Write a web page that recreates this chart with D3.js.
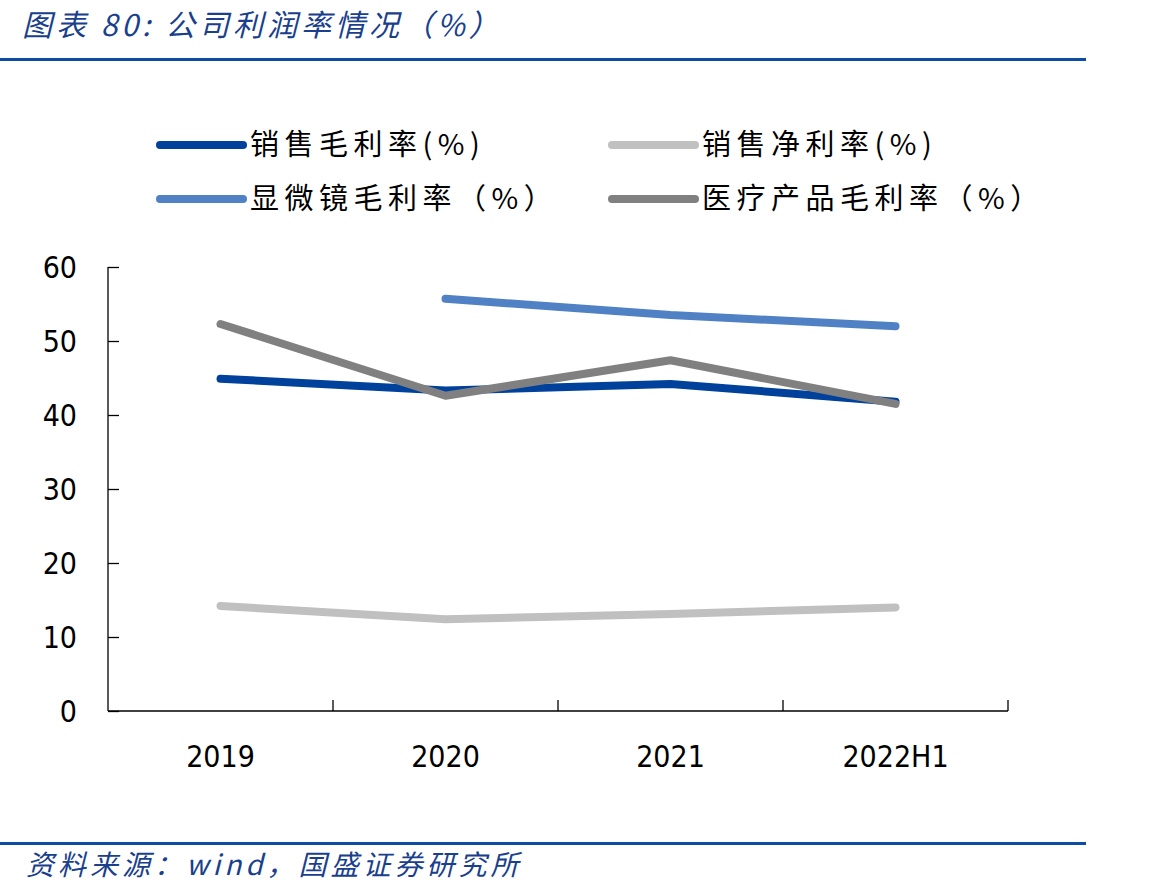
<!DOCTYPE html>
<html lang="zh">
<head>
  <meta charset="UTF-8">
  <title>公司利润率情况</title>
  <script src="https://d3js.org/d3.v7.min.js"></script>
  <style>
    body { margin: 0; background: #fff; }
  </style>
</head>
<body>
  <div class="canvas"></div>
  <script>
    const width = 1166;
    const height = 896;

    // data
    const categories = ['2019', '2020', '2021', '2022H1'];
    const salesGross = [44.9, 43.3, 44.2, 41.8];
    const salesNet = [14.2, 12.4, 13.1, 14.0];
    const microGross = [null, 55.7, 53.5, 52.0];
    const medicalGross = [52.3, 42.6, 47.4, 41.5];
    const yTicks = [0, 10, 20, 30, 40, 50, 60];

    const seriesList = [
      { name: '销售毛利率(%)', values: salesGross, color: '#00419b' },
      { name: '销售净利率(%)', values: salesNet, color: '#c0c0c0' },
      { name: '显微镜毛利率（%）', values: microGross, color: '#4f81c4' },
      { name: '医疗产品毛利率（%）', values: medicalGross, color: '#808080' }
    ];
    // draw order: the gray medical line sits on top
    const drawOrder = [1, 2, 0, 3];

    const [ml, mr, mt, mb] = [108, 158, 267, 185];

    const svg = d3.select('.canvas')
      .append('svg')
      .attr('width', width)
      .attr('height', height);

    const cjk = '"Noto Sans CJK SC", sans-serif';
    const num = '"DejaVu Sans Condensed", "DejaVu Sans", sans-serif';

    // header
    svg.append('text')
      .attr('x', 22)
      .attr('y', 36)
      .attr('font-family', cjk)
      .attr('font-size', 30)
      .attr('font-style', 'italic')
      .attr('letter-spacing', 4)
      .attr('fill', '#1a3f8c')
      .text('图表 80:  公司利润率情况（%）');

    svg.append('rect')
      .attr('x', 0).attr('y', 58)
      .attr('width', 1086).attr('height', 3)
      .attr('fill', '#0d4ca0');

    svg.append('rect')
      .attr('x', 0).attr('y', 842)
      .attr('width', 1086).attr('height', 3)
      .attr('fill', '#0d4ca0');

    svg.append('text')
      .attr('x', 26)
      .attr('y', 875)
      .attr('font-family', cjk)
      .attr('font-size', 28)
      .attr('font-style', 'italic')
      .attr('letter-spacing', 4)
      .attr('fill', '#1a3f8c')
      .text('资料来源：wind，国盛证券研究所');

    const x = d3.scaleBand()
      .domain(categories)
      .range([ml, width - mr])
      .padding(0);

    const y = d3.scaleLinear()
      .domain([0, 60])
      .range([height - mb, mt]);

    // y axis
    const yAxis = svg.append('g')
      .attr('transform', `translate(${ml},0)`)
      .call(d3.axisRight(y).tickValues(yTicks).tickSize(11).tickFormat(d3.format('d')));
    yAxis.select('.domain').attr('d', `M0,${y(60)}V${y(0)}`).attr('stroke', '#000').attr('stroke-width', 1.3);
    yAxis.selectAll('.tick line').attr('stroke', '#000').attr('stroke-width', 1.3);
    yAxis.selectAll('.tick text')
      .attr('x', -31)
      .attr('dy', '0.36em')
      .attr('text-anchor', 'end')
      .attr('font-family', num)
      .attr('font-size', 30)
      .attr('fill', '#000');

    // x axis
    const xAxis = svg.append('g')
      .attr('transform', `translate(0,${y(0)})`);
    xAxis.append('line')
      .attr('x1', ml).attr('x2', width - mr)
      .attr('stroke', '#000').attr('stroke-width', 1.3);
    xAxis.selectAll('.xt')
      .data(categories.slice(1).concat(['end']))
      .enter()
      .append('line')
      .attr('x1', (d, i) => x(categories[0]) + x.bandwidth() * (i + 1))
      .attr('x2', (d, i) => x(categories[0]) + x.bandwidth() * (i + 1))
      .attr('y1', 0).attr('y2', -11)
      .attr('stroke', '#000').attr('stroke-width', 1.3);
    xAxis.selectAll('.xl')
      .data(categories)
      .enter()
      .append('text')
      .attr('x', d => x(d) + x.bandwidth() / 2)
      .attr('y', 56)
      .attr('text-anchor', 'middle')
      .attr('font-family', num)
      .attr('font-size', 30)
      .attr('fill', '#000')
      .text(d => d);

    // lines
    const line = d3.line()
      .defined(d => d.v !== null)
      .x(d => x(d.c) + x.bandwidth() / 2)
      .y(d => y(d.v));

    drawOrder.forEach(i => {
      const s = seriesList[i];
      svg.append('path')
        .datum(categories.map((c, j) => ({ c: c, v: s.values[j] })))
        .attr('d', line)
        .attr('fill', 'none')
        .attr('stroke', s.color)
        .attr('stroke-width', 8)
        .attr('stroke-linecap', 'round')
        .attr('stroke-linejoin', 'round');
    });

    // legend
    const legendPos = [[160, 145], [612, 145], [160, 199], [612, 199]];
    seriesList.forEach((s, i) => {
      const g = svg.append('g')
        .attr('transform', `translate(${legendPos[i][0]},${legendPos[i][1]})`);
      g.append('line')
        .attr('x1', 0).attr('x2', 83)
        .attr('stroke', s.color)
        .attr('stroke-width', 8)
        .attr('stroke-linecap', 'round');
      g.append('text')
        .attr('x', 90)
        .attr('dy', '0.35em')
        .attr('font-family', cjk)
        .attr('font-size', 29)
        .attr('letter-spacing', 5.5)
        .attr('fill', '#000')
        .text(s.name);
    });
  </script>
</body>
</html>
